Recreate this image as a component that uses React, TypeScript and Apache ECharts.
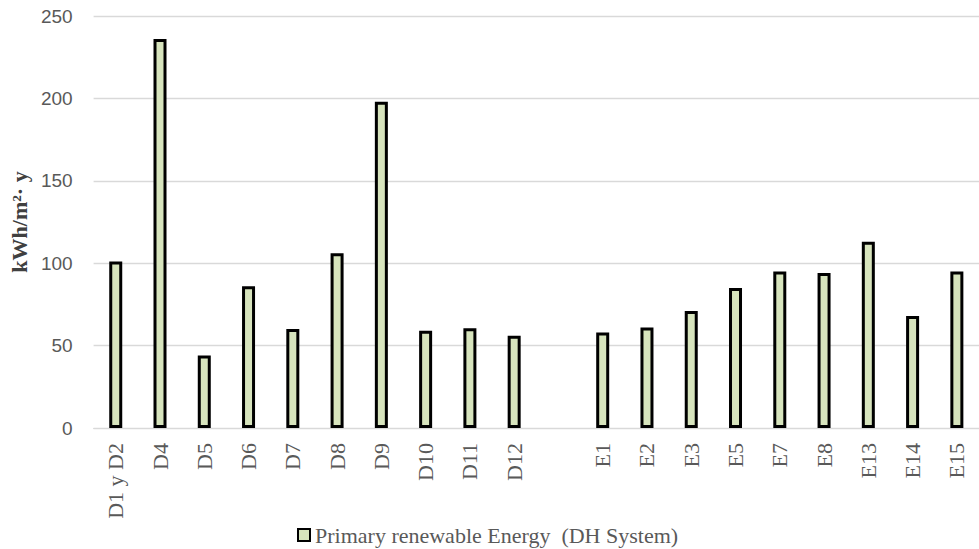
import React, { useEffect, useRef } from "react";
import * as echarts from "echarts";

const categories = [
  "D1 y D2", "D4", "D5", "D6", "D7", "D8", "D9", "D10", "D11", "D12",
  "",
  "E1", "E2", "E3", "E5", "E7", "E8", "E13", "E14", "E15",
];
const values: (number | null)[] = [
  101, 236, 44, 86, 60, 106, 198, 59, 60.5, 56,
  null,
  58, 61, 71, 85, 95, 94, 113, 68, 95,
];
const seriesName = "Primary renewable Energy \u00a0(DH System)";
const yTitle = "kWh/m²· y";
const yTicks = { min: 0, max: 250, interval: 50 };

export default function App() {
  const ref = useRef<HTMLDivElement>(null);
  useEffect(() => {
    if (!ref.current) return;
    const chart = echarts.init(ref.current, undefined, { renderer: "svg" });
    chart.setOption({
      animation: false,
      grid: { left: 92, top: 16, width: 897, height: 412 },
      legend: {
        left: 297,
        top: 524,
        padding: 0,
        itemWidth: 12,
        itemHeight: 12,
        icon: "rect",
        itemGap: 5,
        textStyle: { fontFamily: "Liberation Serif", fontSize: 22, color: "#595959", lineHeight: 22 },
        data: [seriesName],
      },
      xAxis: {
        type: "category",
        data: categories,
        axisLine: { show: true, lineStyle: { color: "#d9d9d9", width: 1 } },
        axisTick: { show: false },
        axisLabel: {
          interval: 0,
          rotate: 90,
          margin: 15,
          fontFamily: "Liberation Serif",
          fontSize: 22,
          color: "#595959",
        },
      },
      yAxis: {
        type: "value",
        min: yTicks.min,
        max: yTicks.max,
        interval: yTicks.interval,
        name: yTitle,
        nameLocation: "middle",
        nameGap: 62,
        nameTextStyle: {
          fontFamily: "Liberation Serif",
          fontWeight: "bold",
          fontSize: 22,
          color: "#404040",
        },
        axisLine: { show: false },
        axisTick: { show: false },
        splitLine: { lineStyle: { color: "#d9d9d9", width: 1.3 } },
        axisLabel: {
          margin: 21,
          fontFamily: "Liberation Sans",
          fontSize: 19,
          color: "#595959",
        },
      },
      series: [
        {
          name: seriesName,
          type: "bar",
          data: values,
          barWidth: 13,
          itemStyle: { color: "#d7e4bd", borderColor: "#000000", borderWidth: 3 },
        },
      ],
    });
    return () => chart.dispose();
  }, []);
  return (
    <div
      ref={ref}
      style={{ position: "fixed", left: 0, top: 0, width: 979, height: 549, background: "#fff" }}
    />
  );
}
